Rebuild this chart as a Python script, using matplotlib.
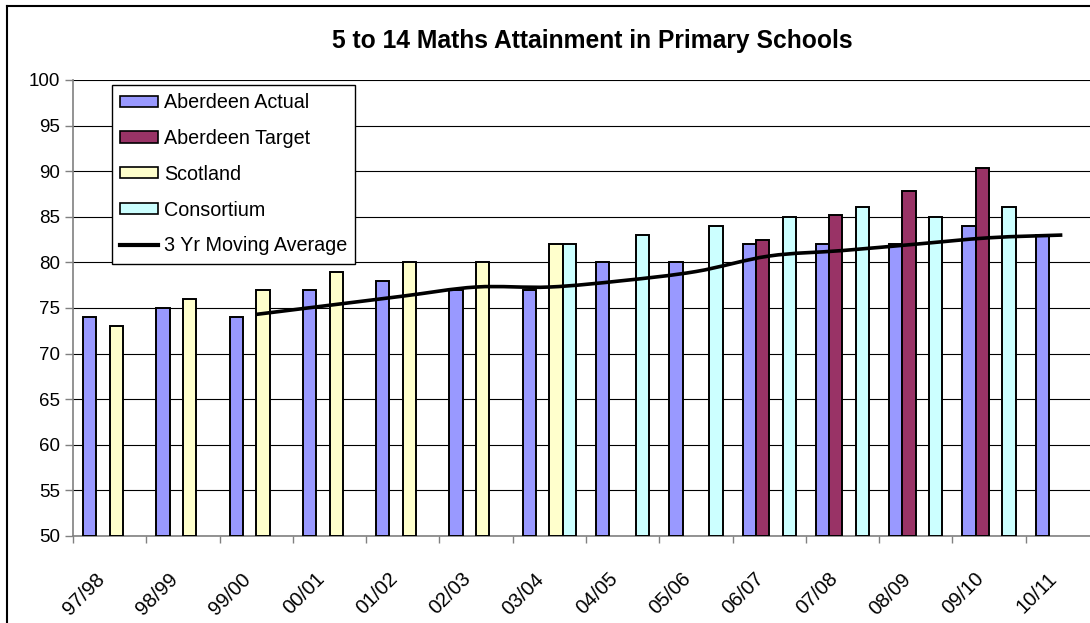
import matplotlib
matplotlib.use("Agg")
import matplotlib.pyplot as plt
import numpy as np
from matplotlib.lines import Line2D
from matplotlib.patches import Patch
from matplotlib.path import Path
from matplotlib.patches import PathPatch
from matplotlib.transforms import ScaledTranslation

plt.rcParams['font.family'] = ['Liberation Sans', 'DejaVu Sans']

categories = ["97/98", "98/99", "99/00", "00/01", "01/02", "02/03", "03/04",
              "04/05", "05/06", "06/07", "07/08", "08/09", "09/10", "10/11"]
actual = [74, 75, 74, 77, 78, 77, 77, 80, 80, 82, 82, 82, 84, 83]
target = [None, None, None, None, None, None, None, None, None, 82.5, 85.2, 87.8, 90.4, None]
scotland = [73, 76, 77, 79, 80, 80, 82, None, None, None, None, None, None, None]
consortium = [None, None, None, None, None, None, 82, 83, 84, 85, 86.1, 85, 86.1, None]
moving_avg = [None, None, 74.3, 75.3, 76.3, 77.3, 77.3, 78.0, 79.0, 80.7, 81.3, 82.0, 82.7, 83.0]

W, H = 1090, 623
fig = plt.figure(figsize=(W / 100, H / 100), dpi=100)
fig.patch.set_facecolor('white')

left, right, top, bottom = 73, 1099, 80, 536
ax = fig.add_axes([left / W, 1 - bottom / H, (right - left) / W, (bottom - top) / H])
ax.set_facecolor('white')

n = len(categories)
x = np.arange(n)
w = 1 / 5.5
series = [
    ("Aberdeen Actual", actual, "#9999FF"),
    ("Aberdeen Target", target, "#993366"),
    ("Scotland", scotland, "#FFFFCC"),
    ("Consortium", consortium, "#CCFFFF"),
]
for i, (name, vals, col) in enumerate(series):
    xs = [xi + (i - 1.5) * w for xi, v in zip(x, vals) if v is not None]
    hs = [v - 50 for v in vals if v is not None]
    ax.bar(xs, hs, width=w, bottom=50, color=col, edgecolor='black',
           linewidth=1.4, zorder=3)

# moving average, smoothed line (Excel-style bezier through the points)
pts = [(xi, v) for xi, v in zip(x, moving_avg) if v is not None]
P = np.array(pts, dtype=float)
verts = [tuple(P[0])]
codes = [Path.MOVETO]
for k in range(len(P) - 1):
    p0 = P[k - 1] if k > 0 else P[k]
    p1 = P[k]
    p2 = P[k + 1]
    p3 = P[k + 2] if k + 2 < len(P) else P[k + 1]
    c1 = p1 + (p2 - p0) / 6
    c2 = p2 - (p3 - p1) / 6
    verts += [tuple(c1), tuple(c2), tuple(p2)]
    codes += [Path.CURVE4] * 3
ax.add_patch(PathPatch(Path(verts, codes), facecolor='none', edgecolor='black',
                       linewidth=2.6, zorder=4, capstyle='butt'))

ax.set_xlim(-0.5, n - 0.5)
ax.set_ylim(50, 100)
ax.set_yticks(np.arange(50, 101, 5))
ax.yaxis.grid(True, color='black', linewidth=0.8, zorder=0)
ax.set_axisbelow(True)

ax.set_xticks(np.arange(-0.5, n, 1))
ax.set_xticklabels([])
ax.set_xticks(x, minor=True)
ax.set_xticklabels(categories, minor=True, rotation=45, ha='right',
                   va='center', rotation_mode='anchor', fontsize=14.5)
ax.tick_params(axis='x', which='minor', length=0, pad=0)
ax.tick_params(axis='x', which='major', length=5, width=1, color='#808080', direction='out')
ax.tick_params(axis='y', length=6, width=1, color='#808080', labelsize=13.5, pad=3)
for lab in ax.get_xticklabels(minor=True):
    lab.set_transform(lab.get_transform() + ScaledTranslation(-8 / 100, -40 / 100, fig.dpi_scale_trans))

for s in ['top', 'right']:
    ax.spines[s].set_visible(False)
for s in ['left', 'bottom']:
    ax.spines[s].set_color('#808080')
    ax.spines[s].set_linewidth(1.2)

fig.text(592 / W, 1 - 41 / H, "5 to 14 Maths Attainment in Primary Schools",
         ha='center', va='center', fontsize=17.7, fontweight='bold')

handles = [Patch(facecolor=c, edgecolor='black', linewidth=1.2) for _, _, c in series]
handles.append(Line2D([0], [0], color='black', linewidth=3))
labels = [s[0] for s in series] + ["3 Yr Moving Average"]
leg = ax.legend(handles, labels, loc='upper left',
                bbox_to_anchor=(112 / W, 1 - 85 / H), bbox_transform=fig.transFigure,
                borderaxespad=0, fontsize=14.2, frameon=True, fancybox=False,
                framealpha=1, edgecolor='black', handlelength=1.9, handleheight=0.5,
                handletextpad=0.3, labelspacing=0.85, borderpad=0.42)
leg.get_frame().set_linewidth(1.0)
leg.set_zorder(5)

# outer chart frame (left and top edges visible)
fig.add_artist(Line2D([7 / W, 7 / W], [0, 1 - 5.5 / H], color='black', linewidth=1.5,
                      transform=fig.transFigure))
fig.add_artist(Line2D([7 / W, 1], [1 - 5.5 / H, 1 - 5.5 / H], color='black', linewidth=1.5,
                      transform=fig.transFigure))

fig.savefig("out.png", dpi=100, facecolor='white')
